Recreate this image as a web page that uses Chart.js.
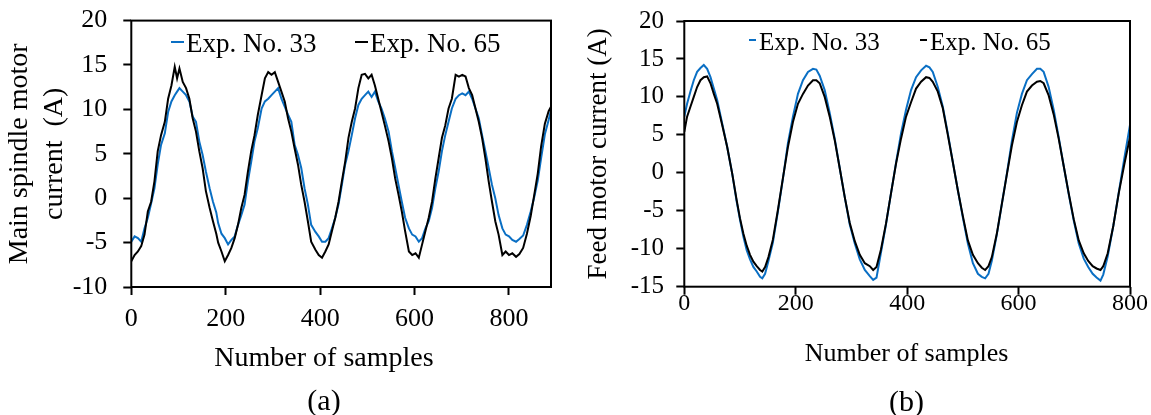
<!DOCTYPE html>
<html>
<head>
<meta charset="utf-8">
<script src="https://cdn.jsdelivr.net/npm/chart.js@4.4.1/dist/chart.umd.min.js"></script>
<style>
html,body{margin:0;padding:0;background:#fff;}
#wrap{position:relative;width:1151px;height:415px;overflow:hidden;background:#fff;}
.box{position:absolute;top:0;height:415px;}
#boxA{left:0;width:575px;}
#boxB{left:575px;width:576px;}
</style>
</head>
<body>
<div id="wrap">
  <div class="box" id="boxA"><canvas id="chartA"></canvas></div>
  <div class="box" id="boxB"><canvas id="chartB"></canvas></div>
</div>
<script>
// ---------- data ----------
const seriesLabels = ['Exp. No. 33', 'Exp. No. 65'];

// (a) main spindle motor current
const samplesA = [0,7,14,21,28,35,42,49,56,63,
  71,78,85,92,97,102,109,116,123,130,
  137,144,151,158,166,173,180,184,191,198,
  205,212,219,226,233,240,247,254,261,268,
  276,283,290,297,304,311,318,325,332,339,
  346,353,360,367,374,381,390,397,404,411,
  418,425,432,439,446,453,460,467,474,481,
  488,495,502,509,516,523,530,537,545,552,
  559,566,573,580,588,595,602,609,616,623,
  630,637,644,651,658,665,672,679,687,694,
  701,708,715,722,729,736,743,750,757,764,
  771,778,786,793,800,807,815,822,830,838,
  846,853,861,868,876,884,889];
const exp33A = [-4.9,-4.3,-4.5,-4.9,-3.4,-2.2,-0.6,1.1,3.8,6.0,
  7.3,9.7,10.9,11.6,12.0,12.4,12.0,11.6,10.9,9.2,
  8.6,6.4,4.9,3.0,1.1,-0.4,-1.6,-2.8,-4.0,-4.5,
  -5.2,-4.7,-4.3,-3.0,-1.9,-0.7,1.9,4.1,6.4,7.9,
  10.1,10.9,11.2,11.6,12.0,12.4,11.2,10.3,9.4,8.6,
  6.0,4.9,3.4,1.1,-0.7,-3.0,-3.8,-4.3,-4.9,-4.9,
  -4.5,-3.4,-2.2,-0.7,1.5,3.8,5.3,7.1,9.0,10.5,
  11.2,11.6,12.0,11.4,12.0,10.9,10.1,9.0,7.5,5.3,
  3.4,1.5,-0.4,-2.2,-3.4,-4.1,-4.3,-4.9,-4.5,-3.4,
  -2.6,-1.1,1.1,3.0,5.3,7.1,8.6,10.1,11.2,11.6,
  11.8,11.6,12.0,11.2,10.1,9.0,7.1,5.3,3.4,1.5,
  0.0,-1.9,-3.4,-4.1,-4.3,-4.7,-4.9,-4.6,-4.2,-3.0,
  -1.5,0.0,2.0,4.5,7.2,8.8,9.9];
const exp65A = [-7.1,-6.4,-6.0,-5.4,-4.1,-1.5,-0.4,1.9,5.3,7.1,
  8.6,11.2,12.7,14.8,13.5,14.6,13.1,12.4,11.2,9.0,
  7.5,5.3,3.4,0.8,-1.1,-2.6,-4.0,-5.0,-6.0,-7.1,
  -6.4,-5.6,-4.5,-3.0,-1.1,0.4,3.0,5.3,7.1,9.4,
  11.6,13.5,14.2,13.9,14.2,13.1,12.0,10.9,9.0,7.5,
  5.6,3.8,1.5,-0.4,-2.6,-4.9,-5.8,-6.4,-6.7,-6.0,
  -5.2,-3.7,-2.2,-0.4,1.9,4.1,6.8,8.6,10.1,12.4,
  13.9,14.0,13.5,13.9,12.7,11.2,9.7,8.2,6.4,4.5,
  2.2,0.4,-1.5,-3.7,-6.0,-6.4,-6.2,-6.7,-5.2,-3.7,
  -2.2,-0.4,2.2,4.5,6.8,8.2,10.1,11.2,13.9,13.7,
  13.9,13.7,12.4,11.6,10.1,8.6,6.8,4.5,1.9,-0.4,
  -2.6,-4.1,-6.4,-6.0,-6.4,-6.2,-6.6,-6.3,-5.6,-4.0,
  -2.0,0.2,2.8,5.8,8.4,9.8,10.3];
const xTicksA = [0,200,400,600,800];
const yTicksA = [-10,-5,0,5,10,15,20];

// (b) feed motor current
const samplesB = [0,5,11,17,23,29,35,41,47,53,
  59,68,77,86,94,100,106,112,118,124,
  130,136,140,145,151,159,168,177,186,195,
  204,213,222,231,237,243,252,261,270,279,
  288,297,306,315,324,333,339,345,353,362,
  371,380,389,398,407,416,425,434,440,446,
  455,464,473,482,491,500,509,518,527,534,
  540,546,552,561,570,579,588,597,606,615,
  624,633,639,645,654,663,672,681,690,699,
  708,717,725,733,740,747,752,760,770,780,
  790,800];
const exp33B = [7.4,9.1,10.7,12.2,13.3,13.8,14.2,13.7,12.6,11.1,
  9.6,6.5,3.4,-0.1,-3.8,-6.2,-8.4,-10.2,-11.4,-12.4,
  -13.0,-13.7,-13.9,-13.3,-11.6,-9.2,-5.1,-0.8,3.9,7.4,
  10.4,12.2,13.3,13.7,13.6,12.8,10.9,7.9,4.5,0.6,
  -3.2,-6.8,-9.3,-11.4,-12.8,-13.6,-14.1,-13.8,-10.5,-6.8,
  -2.7,1.3,5.2,8.3,10.9,12.6,13.5,14.1,13.9,13.3,
  11.3,8.7,5.2,1.4,-2.3,-5.9,-9.3,-11.9,-13.3,-13.7,
  -13.9,-13.3,-11.6,-8.1,-4.1,-0.1,4.2,7.9,10.4,12.2,
  13.0,13.7,13.7,13.3,11.3,8.3,4.7,0.9,-2.8,-6.3,
  -9.3,-11.3,-12.4,-13.3,-13.8,-14.2,-13.4,-11.0,-7.0,-2.5,
  2.0,6.3];
const exp65B = [5.4,7.4,8.7,10.0,11.3,12.2,12.6,12.7,11.8,10.4,
  9.1,6.3,3.4,-0.1,-3.6,-6.0,-8.0,-9.6,-10.8,-11.7,
  -12.3,-12.8,-13.0,-12.4,-11.1,-8.8,-4.9,-0.7,3.4,6.7,
  9.1,10.4,11.5,12.2,12.2,11.8,10.0,7.4,4.3,0.6,
  -3.2,-6.6,-9.0,-10.8,-11.9,-12.3,-12.8,-12.4,-10.1,-6.7,
  -2.7,1.2,4.5,7.4,9.3,11.1,12.0,12.6,12.5,12.0,
  10.7,8.5,5.0,1.4,-2.3,-5.7,-8.9,-10.8,-11.9,-12.5,
  -12.8,-12.3,-11.1,-8.0,-4.1,-0.2,3.6,6.7,8.9,10.7,
  11.5,12.0,12.1,11.8,10.2,7.7,4.5,0.9,-2.7,-6.1,
  -8.9,-10.6,-11.6,-12.3,-12.6,-12.8,-12.3,-10.6,-7.0,-2.6,
  1.2,4.7];
const xTicksB = [0,200,400,600,800];
const yTicksB = [-15,-10,-5,0,5,10,15,20];

// ---------- styling ----------
const FONT = "'Liberation Serif', 'Times New Roman', Times, serif";
const BLUE = '#0A6FC4';
const BLACK = '#000000';
Chart.defaults.font.family = FONT;
Chart.defaults.color = '#000';

function framePlugin() {
  return {
    id: 'frame',
    afterDraw(chart) {
      const {ctx, chartArea: a} = chart;
      ctx.save();
      ctx.strokeStyle = '#000';
      ctx.lineWidth = 2;
      ctx.strokeRect(a.left, a.top, a.right - a.left, a.bottom - a.top);
      ctx.restore();
    }
  };
}

// centre the bottom title/subtitle boxes on a chosen x
function titleCentrePlugin(cx) {
  return {
    id: 'titleCentre',
    afterLayout(chart) {
      chart.boxes.forEach(b => {
        if (!b.axis && b.options && b.options.text !== undefined && b.position === 'bottom') {
          b.left = cx - 150;
          b.right = cx + 150;
          b.width = 300;
        }
      });
    }
  };
}

function lineLegendPlugin(cfg) {
  return {
    id: 'lineLegend',
    afterDraw(chart) {
      const ctx = chart.ctx;
      ctx.save();
      ctx.font = cfg.size + 'px ' + FONT;
      ctx.textAlign = 'left';
      ctx.textBaseline = 'alphabetic';
      chart.data.datasets.forEach((ds, i) => {
        const x = cfg.xs[i];
        ctx.strokeStyle = ds.borderColor;
        ctx.lineWidth = 2;
        ctx.beginPath();
        ctx.moveTo(x, cfg.dashY);
        ctx.lineTo(x + cfg.dashLen, cfg.dashY);
        ctx.stroke();
        ctx.fillStyle = '#000';
        ctx.fillText(ds.label, x + cfg.dashLen + cfg.gap, cfg.baseline);
      });
      ctx.restore();
    }
  };
}

function toPoints(xs, ys) { return xs.map((x, i) => ({x: x, y: ys[i]})); }

function makeChart(id, c) {
  const gridOpts = {display: true, drawOnChartArea: false, drawTicks: true,
    tickLength: 8, tickWidth: 2, tickColor: '#000', color: '#000'};
  return new Chart(document.getElementById(id), {
    type: 'line',
    data: {
      datasets: [
        {label: seriesLabels[0], data: toPoints(c.samples, c.s33), borderColor: BLUE,
         borderWidth: 2, pointRadius: 0, tension: 0, fill: false, order: 2},
        {label: seriesLabels[1], data: toPoints(c.samples, c.s65), borderColor: BLACK,
         borderWidth: 2, pointRadius: 0, tension: 0, fill: false, order: 1}
      ]
    },
    options: {
      responsive: true,
      maintainAspectRatio: false,
      animation: false,
      events: [],
      layout: {padding: {left: 0, right: c.padR, top: c.padT, bottom: 0}},
      plugins: {
        legend: {display: false},
        tooltip: {enabled: false},
        subtitle: {display: true, position: 'bottom', text: 'Number of samples', color: '#000',
          font: {size: c.subSize, lineHeight: c.subLH + 'px', weight: 'normal'}, padding: 0},
        title: {display: true, position: 'bottom', text: c.panel, color: '#000',
          font: {size: 30, lineHeight: c.panelLH + 'px', weight: 'normal'},
          padding: {top: c.panelPadTop, bottom: 0}}
      },
      scales: {
        x: {
          type: 'linear', position: 'bottom', min: 0, max: c.xMax,
          afterBuildTicks: s => { s.ticks = c.xTicks.map(v => ({value: v})); },
          afterFit: s => { s.height = c.xAxisH; s.paddingLeft = 0; s.paddingRight = 0; },
          grid: gridOpts,
          border: {display: false},
          ticks: {font: {size: c.xTickSize, lineHeight: 1.2}, padding: c.xTickPad, color: '#000',
            maxRotation: 0, autoSkip: false, callback: v => String(v)}
        },
        y: {
          type: 'linear', position: 'left', min: c.yMin, max: 20,
          afterBuildTicks: s => { s.ticks = c.yTicks.map(v => ({value: v})); },
          afterFit: s => { s.width = c.yAxisW; s.paddingTop = 0; s.paddingBottom = 0; },
          grid: gridOpts,
          border: {display: false},
          ticks: {font: {size: c.yTickSize}, padding: c.yTickPad, color: '#000',
            autoSkip: false, callback: v => String(v)},
          title: {display: true, text: c.yTitle, color: '#000',
            font: {size: c.yTitleSize, lineHeight: c.yTitleLH + 'px'},
            padding: {top: c.yTitlePadTop, bottom: 0}}
        }
      }
    },
    plugins: [framePlugin(), titleCentrePlugin(c.titleCx), lineLegendPlugin(c.legend)]
  });
}

makeChart('chartA', {
  samples: samplesA, s33: exp33A, s65: exp65A, xTicks: xTicksA, yTicks: yTicksA,
  xMax: 889, yMin: -10, panel: '(a)', titleCx: 324,
  padR: 24, padT: 20.6, yAxisW: 131.3,
  xAxisH: 54.4, subSize: 28, subLH: 33.6, panelLH: 26, panelPadTop: 14,
  xTickSize: 26, xTickPad: 8.9, yTickSize: 26, yTickPad: 16,
  yTitle: ['Main spindle motor', 'current  (A)'], yTitleSize: 28, yTitleLH: 35.5, yTitlePadTop: 1.75,
  legend: {size: 27, xs: [171, 355], dashLen: 13, gap: 2, dashY: 42, baseline: 51.7}
});

makeChart('chartB', {
  samples: samplesB, s33: exp33B, s65: exp65B, xTicks: xTicksB, yTicks: yTicksB,
  xMax: 800, yMin: -15, panel: '(b)', titleCx: 331.5,
  padR: 21, padT: 21, yAxisW: 109.3,
  xAxisH: 52.2, subSize: 26, subLH: 31.2, panelLH: 24.2, panelPadTop: 20.7,
  xTickSize: 24, xTickPad: -5.5, yTickSize: 25, yTickPad: 12.3,
  yTitle: 'Feed motor current (A)', yTitleSize: 27, yTitleLH: 32.4, yTitlePadTop: 7.8,
  legend: {size: 25, xs: [174, 345], dashLen: 7, gap: 3, dashY: 40, baseline: 50}
});
</script>
</body>
</html>
